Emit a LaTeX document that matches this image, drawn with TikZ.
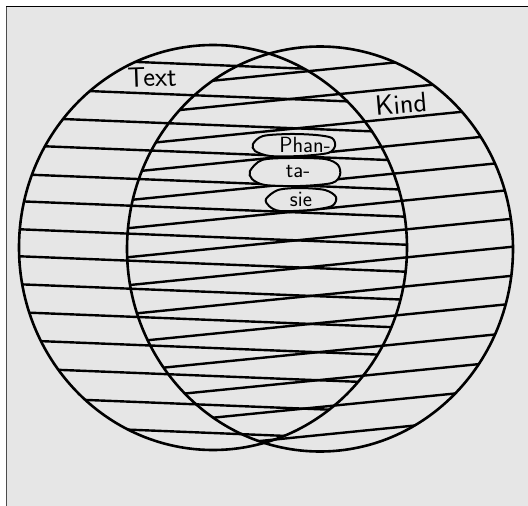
\documentclass[tikz,border=0pt]{standalone}
\usepackage{xcolor}
\usepackage{tikz}
\definecolor{paper}{RGB}{230,230,230}
\begin{document}
\begin{tikzpicture}[x=1pt,y=-1pt,
  ring/.style={line width=2.6pt},
  hatch/.style={line width=2.4pt},
  blob/.style={fill=paper,line width=2pt},
  word/.style={font=\sffamily\fontsize{22}{26}\selectfont,inner sep=0pt}]
\useasboundingbox (0,0) rectangle (528,506);
\fill[white] (0,0) rectangle (528,506);
\fill[paper] (6,6) rectangle (528,506);
\draw[gray!60!black,line width=1.5pt] (6.5,6) -- (6.5,506);
\draw[line width=1.5pt] (6,6.5) -- (528,6.5);
% hatching, left set (falls to the right)
\begin{scope}
\clip (213,247.5) ellipse [x radius=194pt, y radius=202.5pt];
\foreach \yy in {65,96,125,153,182,209,237,264,292,320,348,376,405,433}
  \draw[hatch] (0,{\yy-8.5}) -- (528,{\yy+12.6});
\end{scope}
% hatching, right set (rises to the right)
\begin{scope}
\clip (320,249) ellipse [x radius=193pt, y radius=202.5pt];
\foreach \yy in {70,96,126,153,181,209,238,266,295,323,352,380,407,435}
  \draw[hatch] (0,{\yy+32}) -- (528,{\yy-20.8});
\end{scope}
\draw[ring] (213,247.5) ellipse [x radius=194pt, y radius=202.5pt];
\draw[ring] (320,249) ellipse [x radius=193pt, y radius=202.5pt];
% the three clouds
\filldraw[blob] plot[smooth cycle] coordinates {(253,144) (263,136) (290,134) (316,135) (332,138) (335,146) (328,153) (300,156) (270,156) (255,151)};
\filldraw[blob] plot[smooth cycle] coordinates {(250,171) (262,160) (290,158) (325,159) (338,165) (340,175) (332,183) (300,186) (265,185) (252,179)};
\filldraw[blob] plot[smooth cycle] coordinates {(266,199) (278,190) (300,188) (325,190) (336,197) (332,206) (310,210) (280,211) (269,206)};
\node[word] (phan) at (305,145) {Phan-};
\node[word] (ta) at (298,172) {ta-};
\node[word] (sie) at (301,199) {sie};
\node[word,font=\sffamily\fontsize{28}{32}\selectfont,rotate=2] (textlbl) at (152,77) {Text};
\node[word,font=\sffamily\fontsize{28}{32}\selectfont,rotate=5] (kindlbl) at (401,104) {Kind};
\end{tikzpicture}
\end{document}
